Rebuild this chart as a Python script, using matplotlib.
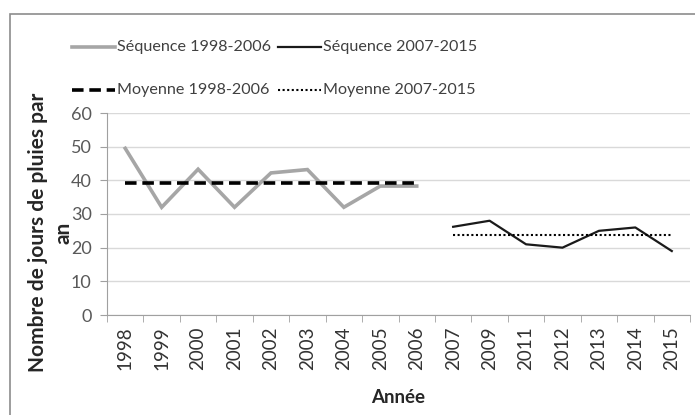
import matplotlib
matplotlib.use("Agg")
import matplotlib.pyplot as plt
from matplotlib.patches import Rectangle
from matplotlib.lines import Line2D

years = ["1998", "1999", "2000", "2001", "2002", "2003", "2004", "2005", "2006",
         "2007", "2009", "2011", "2012", "2013", "2014", "2015"]
seq1 = [49.5, 32, 43.3, 32, 42.2, 43.2, 32, 38.3, 38.3]
seq2 = [26.2, 28, 21, 20, 25, 26, 19]
mean1 = 39.1
mean2 = 23.7
yticks = [0, 10, 20, 30, 40, 50, 60]
legend_labels = ["Séquence 1998-2006", "Séquence 2007-2015", "Moyenne 1998-2006", "Moyenne 2007-2015"]

plt.rcParams['font.family'] = ['Lato', 'DejaVu Sans']

fig = plt.figure(figsize=(6.95, 4.15), dpi=100)
W, H = 695, 415
ax = fig.add_axes([107 / W, 1 - 315 / H, (690 - 107) / W, (315 - 113) / H])

n1 = len(seq1)
x1 = list(range(n1))
x2 = list(range(n1, n1 + len(seq2)))

styles = [
    dict(color="#a6a6a6", lw=2.6),
    dict(color="#1a1a1a", lw=1.6),
    dict(color="black", lw=2.6, dashes=(3.2, 1.6)),
    dict(color="black", lw=1.5, dashes=(1, 1.2)),
]

ax.plot(x1, seq1, solid_joinstyle="miter", **styles[0])
ax.plot(x2, seq2, **styles[1])
ax.plot([x1[0], x1[-1]], [mean1, mean1], **styles[2])
ax.plot([x2[0], x2[-1]], [mean2, mean2], **styles[3])

ax.set_xlim(-0.5, len(years) - 0.5)
ax.set_ylim(0, 60)
ax.set_yticks(yticks)
ax.set_xticks(range(len(years)))
ax.set_xticklabels(years, rotation=90, fontsize=13.5, color="#333333")
ax.set_xticks([i - 0.5 for i in range(len(years) + 1)], minor=True)
ax.tick_params(axis="x", which="major", length=0, pad=8)
ax.tick_params(axis="x", which="minor", length=5, color="#a0a0a0", direction="out")
ax.tick_params(axis="y", length=5, color="#a0a0a0", labelsize=13, labelcolor="#595959", pad=6)
ax.grid(axis="y", color="#d9d9d9", lw=1)
ax.set_axisbelow(True)
for s in ["top", "right"]:
    ax.spines[s].set_visible(False)
ax.spines["left"].set_color("#a0a0a0")
ax.spines["bottom"].set_color("#a0a0a0")

ax.set_xlabel("Année", fontsize=13.5, fontweight="bold", color="#262626", labelpad=14)
fig.text(38 / W, 1 - 232 / H, "Nombre de jours de pluies par", rotation=90,
         fontsize=15, fontweight="bold", color="#262626", ha="center", va="center")
fig.text(63 / W, 1 - 233 / H, "an", rotation=90,
         fontsize=15, fontweight="bold", color="#262626", ha="center", va="center")

# legend drawn manually (2 rows x 2 columns)
leg_pos = [(72, 47), (278, 47), (72, 90), (278, 90)]
for (lx, ly), st, lab in zip(leg_pos, styles, legend_labels):
    fig.add_artist(Line2D([lx / W, (lx + 43) / W], [1 - ly / H, 1 - ly / H],
                          transform=fig.transFigure, **st))
    fig.text((lx + 45) / W, 1 - ly / H, lab, fontsize=11.6, color="#404040",
             ha="left", va="center")

fig.add_artist(Rectangle((10 / W, -0.1), 1.2, 1.1 - 14 / H, transform=fig.transFigure,
                         fill=False, edgecolor="#8c8c8c", lw=1.2))

fig.savefig("out.png", dpi=100)
